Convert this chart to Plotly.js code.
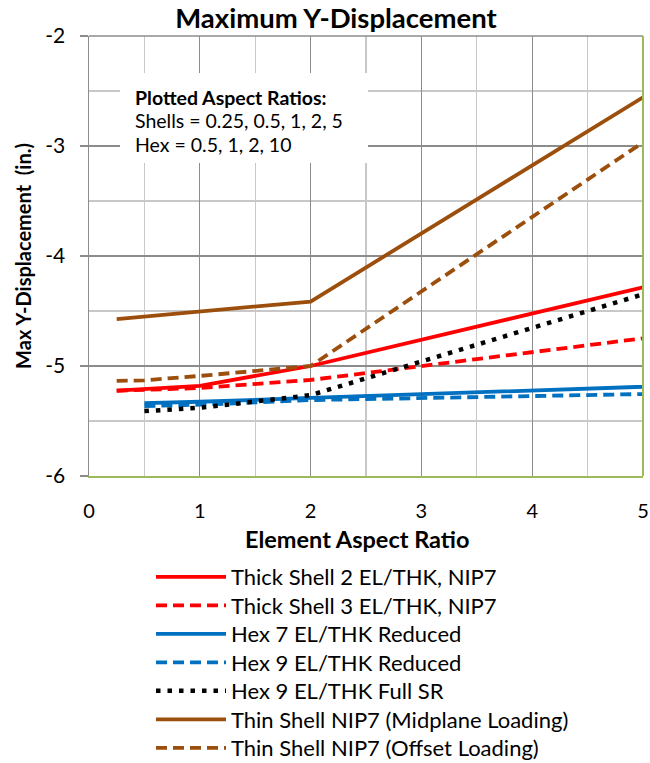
<!DOCTYPE html>
<html>
<head>
<meta charset="utf-8">
<script src="https://cdn.plot.ly/plotly-3.0.1.min.js"></script>
<style>html,body{margin:0;padding:0;background:#fff;}#chart{width:650px;height:763px;}</style>
</head>
<body>
<div id="chart"></div>
<script>
// Aspect ratios
const shellX = [0.25, 0.5, 1, 2, 5];
const hexX = [0.5, 1, 2, 10];
// Max Y-displacement (in.)
const thick2 = [-5.224, -5.21, -5.18, -5.0, -4.285];
const thick3 = [-5.225, -5.215, -5.2, -5.127, -4.748];
const hex7Red = [-5.337, -5.325, -5.29, -5.02];
const hex9Red = [-5.364, -5.352, -5.31, -5.163];
const hex9Full = [-5.41, -5.38, -5.265, -2.82];
const thinMid = [-4.573, -4.55, -4.506, -4.414, -2.557];
const thinOff = [-5.136, -5.13, -5.09, -5.0, -2.967];
const seriesNames = [
  'Thick Shell 2 EL/THK, NIP7',
  'Thick Shell 3 EL/THK, NIP7',
  'Hex 7 EL/THK Reduced',
  'Hex 9 EL/THK Reduced',
  'Hex 9 EL/THK Full SR',
  'Thin Shell NIP7 (Midplane Loading)',
  'Thin Shell NIP7 (Offset Loading)'
];
const xTickVals = [0, 1, 2, 3, 4, 5];
const xTickText = ['0', '1', '2', '3', '4', '5'];
const yTickVals = [-6, -5, -4, -3, -2];
const yTickText = ['-6', '-5', '-4', '-3', '-2'];
const noteLines = ['<b>Plotted Aspect Ratios:</b>', 'Shells = 0.25, 0.5, 1, 2, 5', 'Hex = 0.5, 1, 2, 10'];

const RED = '#FF0000', BLUE = '#0070C0', BROWN = '#9C4F0C';
const FONT = 'Lato, "Open Sans", sans-serif';

// plot-area pixel geometry (for converting layout positions to paper coords)
const PL = 89, PW = 554, PB = 476, PH = 440;
const px = v => (v - PL) / PW;
const py = v => (PB - v) / PH;

const legendNames = ['legend', 'legend2', 'legend3', 'legend4', 'legend5', 'legend6', 'legend7'];
const legendYpx = [577, 605.5, 634, 662.5, 691, 719.5, 748];

function tr(i, x, y, color, dash, w) {
  return {x: x, y: y, name: seriesNames[i], type: 'scatter', mode: 'lines', legend: legendNames[i],
    line: {color: color, width: w || 3.8, dash: dash || 'solid'}};
}
const data = [
  tr(0, shellX, thick2, RED),
  tr(1, shellX, thick3, RED, '11px,6px'),
  tr(2, hexX, hex7Red, BLUE),
  tr(3, hexX, hex9Red, BLUE, '11px,6px'),
  tr(4, hexX, hex9Full, '#000000', '4.5px,7px', 4.5),
  tr(5, shellX, thinMid, BROWN),
  tr(6, shellX, thinOff, BROWN, '11px,6px')
];

const layout = {
  width: 650, height: 763,
  margin: {l: 89, r: 7, t: 36, b: 287, autoexpand: false},
  paper_bgcolor: '#ffffff', plot_bgcolor: '#ffffff',
  font: {family: FONT, color: '#000000', size: 18},
  showlegend: true,
  title: {text: '<b>Maximum Y-Displacement</b>', font: {family: FONT, size: 27.5, color: '#000'},
    x: px(336), xref: 'paper', xanchor: 'center', y: 1 - 18 / 763, yref: 'container', yanchor: 'middle'},
  xaxis: {
    range: [0, 5], tickvals: xTickVals, ticktext: xTickText,
    showgrid: true, gridcolor: '#8C8C8C', gridwidth: 1.3,
    minor: {dtick: 0.5, tick0: 0, showgrid: true, gridcolor: '#C8C8C8', gridwidth: 1.3},
    showline: true, linecolor: '#9BBB59', linewidth: 2,
    ticks: '', ticklabelstandoff: 16, zeroline: false, automargin: false,
    tickfont: {family: FONT, size: 20}
  },
  yaxis: {
    range: [-6, -2], tickvals: yTickVals, ticktext: yTickText,
    showgrid: true, gridcolor: '#8C8C8C', gridwidth: 1.3,
    minor: {dtick: 0.5, tick0: -6, showgrid: true, gridcolor: '#C8C8C8', gridwidth: 1.3},
    showline: true, linecolor: '#8C8C8C', linewidth: 1.5,
    ticks: 'outside', ticklen: 8, tickcolor: '#8C8C8C', tickwidth: 1.5,
    ticklabelstandoff: 10, automargin: false,
    zeroline: false, tickfont: {family: FONT, size: 21},
    title: {text: '<b>Max Y-Displacement  (in.)</b>', font: {family: FONT, size: 20}, standoff: 8}
  },
  shapes: [
    {type: 'rect', xref: 'paper', yref: 'paper', x0: px(120), x1: px(368), y0: py(163), y1: py(73),
      fillcolor: '#ffffff', line: {width: 0}, layer: 'above'},
    {type: 'line', xref: 'paper', yref: 'paper', x0: 0, x1: 1, y0: 1, y1: 1,
      line: {color: '#8C8C8C', width: 1.5}},
    {type: 'line', xref: 'paper', yref: 'paper', x0: 1, x1: 1, y0: 0, y1: 1,
      line: {color: '#9BBB59', width: 2}}
  ],
  annotations: [
    {xref: 'paper', yref: 'paper', x: px(357), y: py(539), xanchor: 'center', yanchor: 'middle',
      showarrow: false, font: {family: FONT, size: 23.5, color: '#000'}, text: '<b>Element Aspect Ratio</b>'}
  ]
};

const noteYpx = [97, 120.5, 144];
noteLines.forEach((t, i) => {
  layout.annotations.push({xref: 'paper', yref: 'paper', x: px(133), y: py(noteYpx[i]),
    xanchor: 'left', yanchor: 'middle', align: 'left', showarrow: false,
    font: {family: FONT, size: 19.5, color: '#000'}, text: t});
});

legendNames.forEach((n, i) => {
  layout[n] = {x: px(151), xanchor: 'left', y: py(legendYpx[i]), yanchor: 'middle',
    orientation: 'v', font: {family: FONT, size: 22}, bgcolor: 'rgba(0,0,0,0)',
    itemwidth: 70, borderwidth: 0};
});

Plotly.newPlot('chart', data, layout, {displayModeBar: false, staticPlot: true});
</script>
</body>
</html>
